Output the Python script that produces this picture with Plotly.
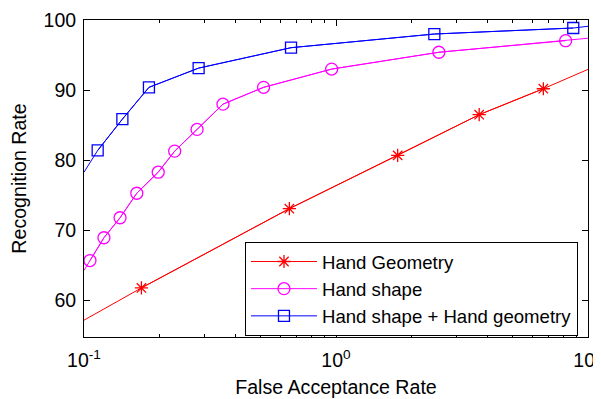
import plotly.graph_objects as go

# Hand Geometry
geo_far = [0.169, 0.653, 1.757, 3.70, 6.65]
geo_rr = [61.8, 73.1, 80.7, 86.5, 90.2]
geo_ends_far = [0.1, 10]
geo_ends_rr = [57.2, 92.96]

# Hand shape
shape_far = [0.1056, 0.120, 0.139, 0.162, 0.197, 0.229, 0.281, 0.356, 0.516, 0.961, 2.56, 8.15]
shape_rr = [65.7, 68.95, 71.8, 75.3, 78.3, 81.3, 84.4, 88.0, 90.4, 93.0, 95.4, 97.05]
shape_ends_far = [0.1, 10]
shape_ends_rr = [64.3, 97.4]

# Hand shape + Hand geometry
fused_far = [0.1133, 0.142, 0.181, 0.285, 0.663, 2.456, 8.74]
fused_rr = [81.4, 85.86, 90.4, 93.14, 96.05, 98.0, 98.86]
fused_ends_far = [0.1, 10]
fused_ends_rr = [78.3, 99.1]

x_tickvals = [0.1, 1, 10]
x_ticktext = ["10<sup>-1</sup>", "10<sup>0</sup>", "10<sup>1</sup>"]
y_tickvals = [60, 70, 80, 90, 100]
minor_vals = [0.2, 0.3, 0.4, 0.5, 0.6, 0.7, 0.8, 0.9, 2, 3, 4, 5, 6, 7, 8, 9]

series = [
    ("Hand Geometry", geo_far, geo_rr, geo_ends_far, geo_ends_rr, "#FF0000", "asterisk-open", 11),
    ("Hand shape", shape_far, shape_rr, shape_ends_far, shape_ends_rr, "#FF00FF", "circle-open", 12),
    ("Hand shape + Hand geometry", fused_far, fused_rr, fused_ends_far, fused_ends_rr, "#0000FF", "square-open", 11),
]

fig = go.Figure()
for name, fx, fy, ex, ey, col, sym, sz in series:
    lx = [ex[0]] + fx + [ex[1]]
    ly = [ey[0]] + fy + [ey[1]]
    fig.add_trace(go.Scatter(x=lx, y=ly, mode="lines", line=dict(color=col, width=1),
                             showlegend=False, hoverinfo="skip"))
    fig.add_trace(go.Scatter(x=fx, y=fy, mode="lines+markers", name=name,
                             line=dict(color=col, width=1),
                             marker=dict(symbol=sym, size=sz, color=col, line=dict(color=col, width=1.3))))

fam = "Liberation Sans, Arial, sans-serif"
font = dict(family=fam, size=18.6, color="#000000")
tfont = dict(family=fam, size=19.5, color="#000000")
afont = dict(family=fam, size=19.6, color="#000000")

# page body has an 8px default margin, so the figure is offset by (8, 8)
fig.update_layout(
    width=601, height=399,
    margin=dict(l=76, r=21, t=12, b=70, autoexpand=False),
    paper_bgcolor="white", plot_bgcolor="white",
    font=font,
    showlegend=True,
    legend=dict(x=0.3194, y=0.30, xanchor="left", yanchor="top",
                bordercolor="#000000", borderwidth=1, bgcolor="white",
                font=font, tracegroupgap=0, itemwidth=66),
)
fig.update_xaxes(
    type="log", range=[-1, 1], tickvals=x_tickvals, ticktext=x_ticktext, automargin=False,
    showgrid=False, zeroline=False, showline=True, linecolor="#000000", linewidth=1,
    mirror="ticks", ticks="inside", ticklen=6, tickcolor="#000000", ticklabelstandoff=6,
    minor=dict(tickvals=minor_vals, ticks="inside", ticklen=3, tickcolor="#000000", showgrid=False),
    title=dict(text="False Acceptance Rate", font=afont, standoff=9),
    tickfont=tfont,
)
fig.update_yaxes(
    range=[54.8, 100], tickvals=y_tickvals, automargin=False,
    showgrid=False, zeroline=False, showline=True, linecolor="#000000", linewidth=1,
    mirror="ticks", ticks="inside", ticklen=6, tickcolor="#000000", ticklabelstandoff=3,
    title=dict(text="Recognition Rate", font=afont, standoff=12),
    tickfont=tfont,
)

fig.write_html("out.html")
